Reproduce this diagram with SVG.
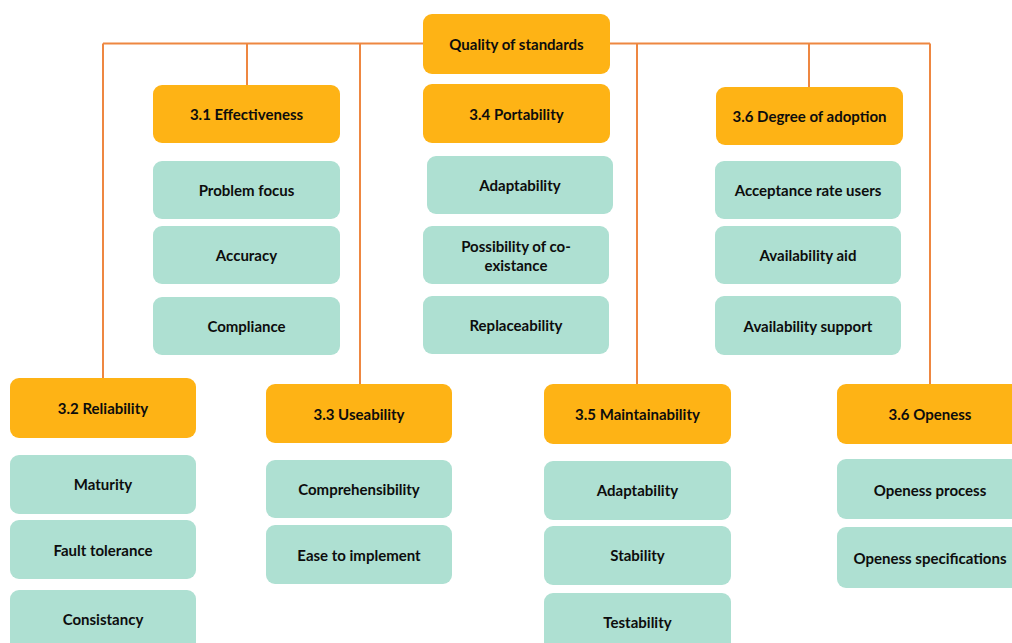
<svg xmlns="http://www.w3.org/2000/svg" width="1012" height="643" viewBox="0 0 1012 643">
<style>
.h{fill:#FEB315;}
.s{fill:#AEE0D2;}
text{font-family:Lato,"Liberation Sans",sans-serif;font-weight:bold;font-size:15px;fill:#0d0d0d;text-anchor:middle;dominant-baseline:central;}
.c{stroke:#EE8741;stroke-width:2;fill:none;}
</style>
<rect width="1012" height="643" fill="#fff"/>
<g id="connectors">
<path class="c" d="M103,43.5 H930"/>
<path class="c" d="M103,43.5 V378"/>
<path class="c" d="M247,43.5 V85"/>
<path class="c" d="M360,43.5 V384"/>
<path class="c" d="M637,43.5 V385"/>
<path class="c" d="M809,43.5 V87"/>
<path class="c" d="M930,43.5 V384"/>
</g>
<g id="root"><rect class="h" x="423" y="14" width="187" height="60" rx="9"/><text x="516.5" y="44">Quality of standards</text></g>
<g id="n31"><rect class="h" x="153" y="85" width="187" height="58" rx="9"/><text x="246.5" y="114">3.1 Effectiveness</text></g>
<g id="n31a"><rect class="s" x="153" y="161" width="187" height="58" rx="9"/><text x="246.5" y="190">Problem focus</text></g>
<g id="n31b"><rect class="s" x="153" y="226" width="187" height="58" rx="9"/><text x="246.5" y="255">Accuracy</text></g>
<g id="n31c"><rect class="s" x="153" y="297" width="187" height="58" rx="9"/><text x="246.5" y="326">Compliance</text></g>
<g id="n34"><rect class="h" x="423" y="84" width="187" height="59" rx="9"/><text x="516.5" y="114">3.4 Portability</text></g>
<g id="n34a"><rect class="s" x="427" y="156" width="186" height="58" rx="9"/><text x="520" y="185">Adaptability</text></g>
<g id="n34b"><rect class="s" x="423" y="226" width="186" height="58" rx="9"/><text x="516" y="246">Possibility of co-</text><text x="516" y="265">existance</text></g>
<g id="n34c"><rect class="s" x="423" y="296" width="186" height="58" rx="9"/><text x="516" y="325">Replaceability</text></g>
<g id="n36"><rect class="h" x="716" y="87" width="187" height="58" rx="9"/><text x="809.5" y="116">3.6 Degree of adoption</text></g>
<g id="n36a"><rect class="s" x="715" y="161" width="186" height="58" rx="9"/><text x="808" y="190">Acceptance rate users</text></g>
<g id="n36b"><rect class="s" x="715" y="226" width="186" height="58" rx="9"/><text x="808" y="255">Availability aid</text></g>
<g id="n36c"><rect class="s" x="715" y="296" width="186" height="59" rx="9"/><text x="808" y="325.5">Availability support</text></g>
<g id="n32"><rect class="h" x="10" y="378" width="186" height="60" rx="9"/><text x="103" y="408">3.2 Reliability</text></g>
<g id="n32a"><rect class="s" x="10" y="455" width="186" height="59" rx="9"/><text x="103" y="484">Maturity</text></g>
<g id="n32b"><rect class="s" x="10" y="520" width="186" height="59" rx="9"/><text x="103" y="549.5">Fault tolerance</text></g>
<g id="n32c"><rect class="s" x="10" y="590" width="186" height="66" rx="9"/><text x="103" y="619">Consistancy</text></g>
<g id="n33"><rect class="h" x="266" y="384" width="186" height="59" rx="9"/><text x="359" y="413.5">3.3 Useability</text></g>
<g id="n33a"><rect class="s" x="266" y="460" width="186" height="58" rx="9"/><text x="359" y="489">Comprehensibility</text></g>
<g id="n33b"><rect class="s" x="266" y="525" width="186" height="59" rx="9"/><text x="359" y="554.5">Ease to implement</text></g>
<g id="n35"><rect class="h" x="544" y="384" width="187" height="60" rx="9"/><text x="637.5" y="414">3.5 Maintainability</text></g>
<g id="n35a"><rect class="s" x="544" y="461" width="187" height="59" rx="9"/><text x="637.5" y="490">Adaptability</text></g>
<g id="n35b"><rect class="s" x="544" y="526" width="187" height="59" rx="9"/><text x="637.5" y="555">Stability</text></g>
<g id="n35c"><rect class="s" x="544" y="593" width="187" height="66" rx="9"/><text x="637.5" y="622">Testability</text></g>
<g id="n36o"><rect class="h" x="837" y="384" width="186" height="60" rx="9"/><text x="930" y="414">3.6 Openess</text></g>
<g id="n36oa"><rect class="s" x="837" y="459" width="186" height="60" rx="9"/><text x="930" y="490">Openess process</text></g>
<g id="n36ob"><rect class="s" x="837" y="527" width="186" height="61" rx="9"/><text x="930" y="557.5">Openess specifications</text></g>
</svg>
